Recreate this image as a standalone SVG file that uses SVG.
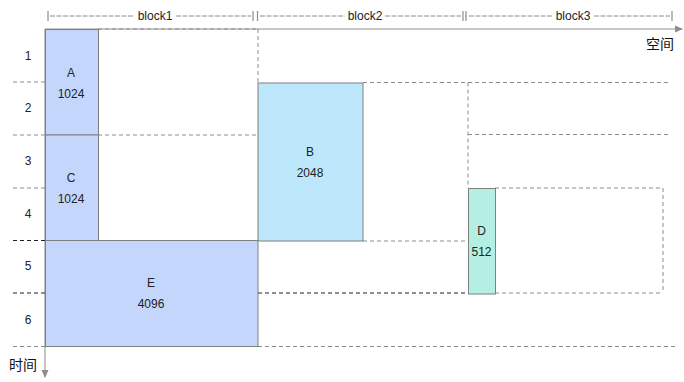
<svg xmlns="http://www.w3.org/2000/svg" width="684" height="382" viewBox="0 0 684 382">
<style>
text{font-family:"Liberation Sans","Noto Sans CJK SC",sans-serif;font-size:12px;fill:#222;text-anchor:middle}
.cn{font-size:14px;fill:#111}
.box{stroke:#7f7f7f;stroke-width:1}
.g{stroke:#8c8c8c;stroke-width:1;stroke-dasharray:4 3;fill:none}
.k{stroke:#222;stroke-width:1;stroke-dasharray:4 3;fill:none}
.hd{stroke:#8c8c8c;stroke-width:1;stroke-dasharray:5 1.5;fill:none}
.tick{stroke:#8c8c8c;stroke-width:1.2}
.axis{stroke:#b5b5b5;stroke-width:1.6;fill:none}
</style>
<defs>
<marker id="ah" markerWidth="8" markerHeight="8" refX="7" refY="4" orient="auto" markerUnits="userSpaceOnUse">
<path d="M0,0.5 L8,4 L0,7.5 Z" fill="#8c8c8c"/>
</marker>
</defs>
<g id="header">
<line class="tick" x1="48" y1="11" x2="48" y2="21"/>
<line class="hd" x1="50" y1="16" x2="134" y2="16"/>
<text x="155" y="20">block1</text>
<line class="hd" x1="176" y1="16" x2="251" y2="16"/>
<line class="tick" x1="253" y1="11" x2="253" y2="21"/>
<line class="tick" x1="257.5" y1="11" x2="257.5" y2="21"/>
<line class="hd" x1="260" y1="16" x2="345" y2="16"/>
<text x="365" y="20">block2</text>
<line class="hd" x1="385" y1="16" x2="461" y2="16"/>
<line class="tick" x1="463" y1="11" x2="463" y2="21"/>
<line class="tick" x1="466" y1="11" x2="466" y2="21"/>
<line class="hd" x1="469" y1="16" x2="553" y2="16"/>
<text x="573" y="20">block3</text>
<line class="hd" x1="594" y1="16" x2="670" y2="16"/>
<line class="tick" x1="672" y1="11" x2="672" y2="21"/>
</g>
<g id="row-labels">
<text x="28" y="60">1</text>
<text x="28" y="112">2</text>
<text x="28" y="165">3</text>
<text x="28" y="218">4</text>
<text x="28" y="270">5</text>
<text x="28" y="324">6</text>
</g>
<g id="connectors">
<line class="axis" x1="45" y1="29" x2="682" y2="29" marker-end="url(#ah)"/>
<line class="axis" x1="45" y1="29" x2="45" y2="377" marker-end="url(#ah)"/>
<line class="g" x1="98" y1="29" x2="258" y2="29"/>
<line class="g" x1="258" y1="29" x2="258" y2="82"/>
<line class="g" x1="13" y1="82" x2="45" y2="82"/>
<line class="g" x1="363" y1="82.5" x2="468" y2="82.5"/>
<line class="g" x1="468" y1="82.5" x2="670" y2="82.5"/>
<line class="g" x1="468" y1="82.5" x2="468" y2="188"/>
<line class="g" x1="13" y1="135" x2="45" y2="135"/>
<line class="g" x1="98" y1="135" x2="258" y2="135"/>
<line class="g" x1="468" y1="134.5" x2="670" y2="134.5"/>
<line class="g" x1="13" y1="188" x2="45" y2="188"/>
<line class="g" x1="495" y1="188" x2="663" y2="188"/>
<line class="g" x1="663" y1="188" x2="663" y2="293"/>
<line class="k" x1="13" y1="240.5" x2="45" y2="240.5"/>
<line class="g" x1="363" y1="241" x2="468" y2="241"/>
<line class="k" x1="13" y1="293" x2="45" y2="293"/>
<line class="k" x1="258" y1="293" x2="468" y2="293"/>
<line class="g" x1="495" y1="293" x2="663" y2="293"/>
<line class="g" x1="13" y1="346.5" x2="45" y2="346.5"/>
<line class="g" x1="258" y1="346.5" x2="677" y2="346.5"/>
</g>
<g id="node-A">
<rect class="box" x="45.5" y="29.5" width="53" height="105.5" fill="#c5d6fc"/>
<text x="71" y="77">A</text>
<text x="71" y="98">1024</text>
</g>
<g id="node-C">
<rect class="box" x="45.5" y="135" width="53" height="105.5" fill="#c5d6fc"/>
<text x="71" y="182">C</text>
<text x="71" y="203">1024</text>
</g>
<g id="node-B">
<rect class="box" x="258" y="83" width="105" height="158" fill="#bde8fb"/>
<text x="310" y="156">B</text>
<text x="310" y="177">2048</text>
</g>
<g id="node-E">
<rect class="box" x="45.5" y="240.5" width="212.5" height="106" fill="#c5d6fc"/>
<text x="151" y="287">E</text>
<text x="151" y="308">4096</text>
</g>
<g id="node-D">
<rect class="box" x="468.5" y="188.5" width="27" height="105.5" fill="#b3efe3"/>
<text x="481.5" y="235">D</text>
<text x="481.5" y="256">512</text>
</g>
<g id="axis-labels">
<text class="cn" x="660" y="49">空间</text>
<text class="cn" x="23" y="370">时间</text>
</g>
</svg>
